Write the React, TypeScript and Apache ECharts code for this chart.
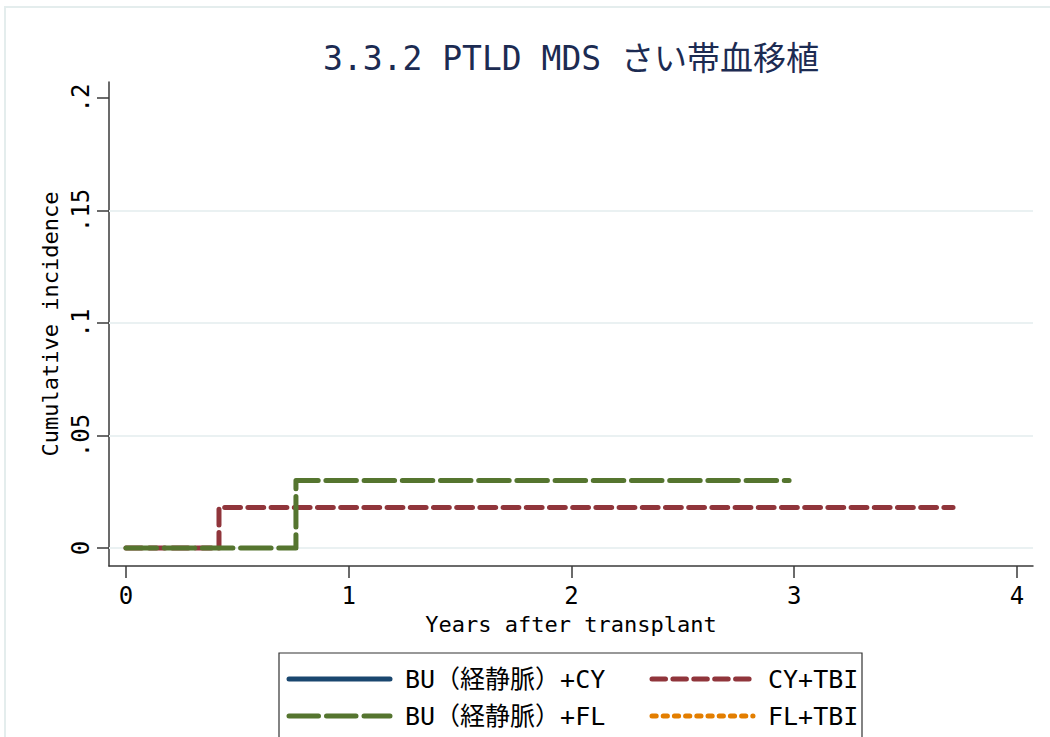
import React, { useEffect, useRef } from "react";
import * as echarts from "echarts";

const TITLE = "3.3.2 PTLD MDS さい帯血移植";
const X_NAME = "Years after transplant";
const Y_NAME = "Cumulative incidence";
const X_TICKS = [0, 1, 2, 3, 4];
const X_TICK_LABELS = ["0", "1", "2", "3", "4"];
const Y_TICKS = [0, 0.05, 0.1, 0.15, 0.2];
const Y_TICK_LABELS = ["0", ".05", ".1", ".15", ".2"];
const GRID_VALUES = [0, 0.05, 0.1, 0.15];

const SERIES_NAMES = ["BU（経静脈）+CY", "BU（経静脈）+FL", "CY+TBI", "FL+TBI"];
const BU_CY_T: number[] = [];
const BU_CY_Y: number[] = [];
const BU_FL_T = [0, 0.763, 2.977];
const BU_FL_Y = [0, 0.03, 0.03];
const CY_TBI_T = [0, 0.4175, 3.713];
const CY_TBI_Y = [0, 0.018, 0.018];
const FL_TBI_T: number[] = [];
const FL_TBI_Y: number[] = [];

const COLORS = ["#1a476f", "#55752f", "#90353b", "#e37e00"];
const DASHES: (number[] | null)[] = [null, [30.5, 7.7], [15.8, 7.4], [4, 7]];

const FONT = '"DejaVu Sans Mono", "Noto Sans CJK JP", monospace';
const AXIS_COLOR = "#3a3a3a";

const pairs = (t: number[], y: number[]) => t.map((v, i) => [v, y[i]]);

const findLabel = (ticks: number[], labels: string[], v: number) => {
  const i = ticks.findIndex((t) => Math.abs(t - v) < 1e-9);
  return i >= 0 ? labels[i] : "";
};

export default function App() {
  const ref = useRef<HTMLDivElement>(null);
  useEffect(() => {
    if (!ref.current) return;
    const chart = echarts.init(ref.current, undefined, { renderer: "svg" });

    const lineW = 5;
    const mkSeries = (idx: number, data: number[][], z: number) => ({
      name: SERIES_NAMES[idx],
      type: "line",
      step: "end",
      data,
      showSymbol: false,
      symbol: "none",
      z,
      lineStyle: {
        color: COLORS[idx],
        width: lineW,
        type: DASHES[idx] ? DASHES[idx] : "solid",
        cap: "round",
        join: "round",
      },
    });

    const legendRows = [
      { idx: 0, x: 289, y: 679, dash: null as number[] | null },
      { idx: 1, x: 289, y: 716, dash: [29.5, 8] },
      { idx: 2, x: 652, y: 679, dash: [13.5, 7.4] },
      { idx: 3, x: 652, y: 716, dash: [4.2, 7] },
    ];
    const legendGraphics: any[] = [];
    legendRows.forEach((r) => {
      legendGraphics.push({
        type: "line",
        shape: { x1: r.x, y1: r.y, x2: r.x + 101, y2: r.y },
        style: {
          stroke: COLORS[r.idx],
          lineWidth: lineW,
          lineDash: r.dash,
          lineCap: "round",
        },
      });
      legendGraphics.push({
        type: "text",
        x: r.x + 116,
        y: r.y,
        style: {
          text: SERIES_NAMES[r.idx],
          fontFamily: FONT,
          fontSize: 25,
          fill: "#000",
          textAlign: "left",
          textVerticalAlign: "middle",
        },
      });
    });

    const option: any = {
      animation: false,
      backgroundColor: "#ffffff",
      grid: { left: 109, right: 17, top: 82, bottom: 171, containLabel: false },
      xAxis: {
        type: "value",
        min: -0.0763,
        max: 4.072,
        name: X_NAME,
        nameLocation: "middle",
        nameGap: 47,
        nameTextStyle: { fontFamily: FONT, fontSize: 22, color: "#000" },
        axisLine: { show: true, onZero: false, lineStyle: { color: AXIS_COLOR, width: 1.5 } },
        axisTick: { show: true, length: 12, customValues: X_TICKS, lineStyle: { color: AXIS_COLOR, width: 1.5 } },
        axisLabel: {
          customValues: X_TICKS,
          margin: 18,
          fontFamily: FONT,
          fontSize: 24,
          color: "#000",
          formatter: (v: number) => findLabel(X_TICKS, X_TICK_LABELS, v),
        },
        splitLine: { show: false },
      },
      yAxis: {
        type: "value",
        min: -0.008,
        max: 0.2071,
        name: Y_NAME,
        nameLocation: "middle",
        nameGap: 45,
        nameRotate: 90,
        nameTextStyle: { fontFamily: FONT, fontSize: 22, color: "#000" },
        axisLine: { show: true, onZero: false, lineStyle: { color: AXIS_COLOR, width: 1.5 } },
        axisTick: { show: true, length: 12, customValues: Y_TICKS, lineStyle: { color: AXIS_COLOR, width: 1.5 } },
        axisLabel: {
          customValues: Y_TICKS,
          rotate: 90,
          margin: 16,
          fontFamily: FONT,
          fontSize: 24,
          color: "#000",
          formatter: (v: number) => findLabel(Y_TICKS, Y_TICK_LABELS, v),
        },
        splitLine: { show: false },
      },
      graphic: [
        {
          type: "rect",
          z: -10,
          shape: { x: 5, y: 7, width: 1200, height: 900 },
          style: { fill: "none", stroke: "#e4eded", lineWidth: 2 },
        },
        {
          type: "text",
          x: 571,
          y: 58,
          style: {
            text: TITLE,
            fontFamily: FONT,
            fontSize: 33,
            fill: "#1c2b52",
            textAlign: "center",
            textVerticalAlign: "middle",
          },
        },
        {
          type: "rect",
          shape: { x: 279, y: 653, width: 583, height: 200 },
          style: { fill: "#fff", stroke: "#333", lineWidth: 1.2 },
        },
        ...legendGraphics,
      ],
      series: [
        {
          ...mkSeries(0, pairs(BU_CY_T, BU_CY_Y), 3),
          markLine: {
            silent: true,
            symbol: "none",
            z: 1,
            label: { show: false },
            lineStyle: { color: "#eaf1f2", width: 2, type: "solid" },
            data: GRID_VALUES.map((v) => ({ yAxis: v })),
          },
        },
        mkSeries(3, pairs(FL_TBI_T, FL_TBI_Y), 3),
        mkSeries(2, pairs(CY_TBI_T, CY_TBI_Y), 4),
        mkSeries(1, pairs(BU_FL_T, BU_FL_Y), 5),
      ],
    };
    chart.setOption(option);
    return () => chart.dispose();
  }, []);

  return (
    <div
      ref={ref}
      style={{ position: "fixed", left: 0, top: 0, width: 1050, height: 737, background: "#fff" }}
    />
  );
}
